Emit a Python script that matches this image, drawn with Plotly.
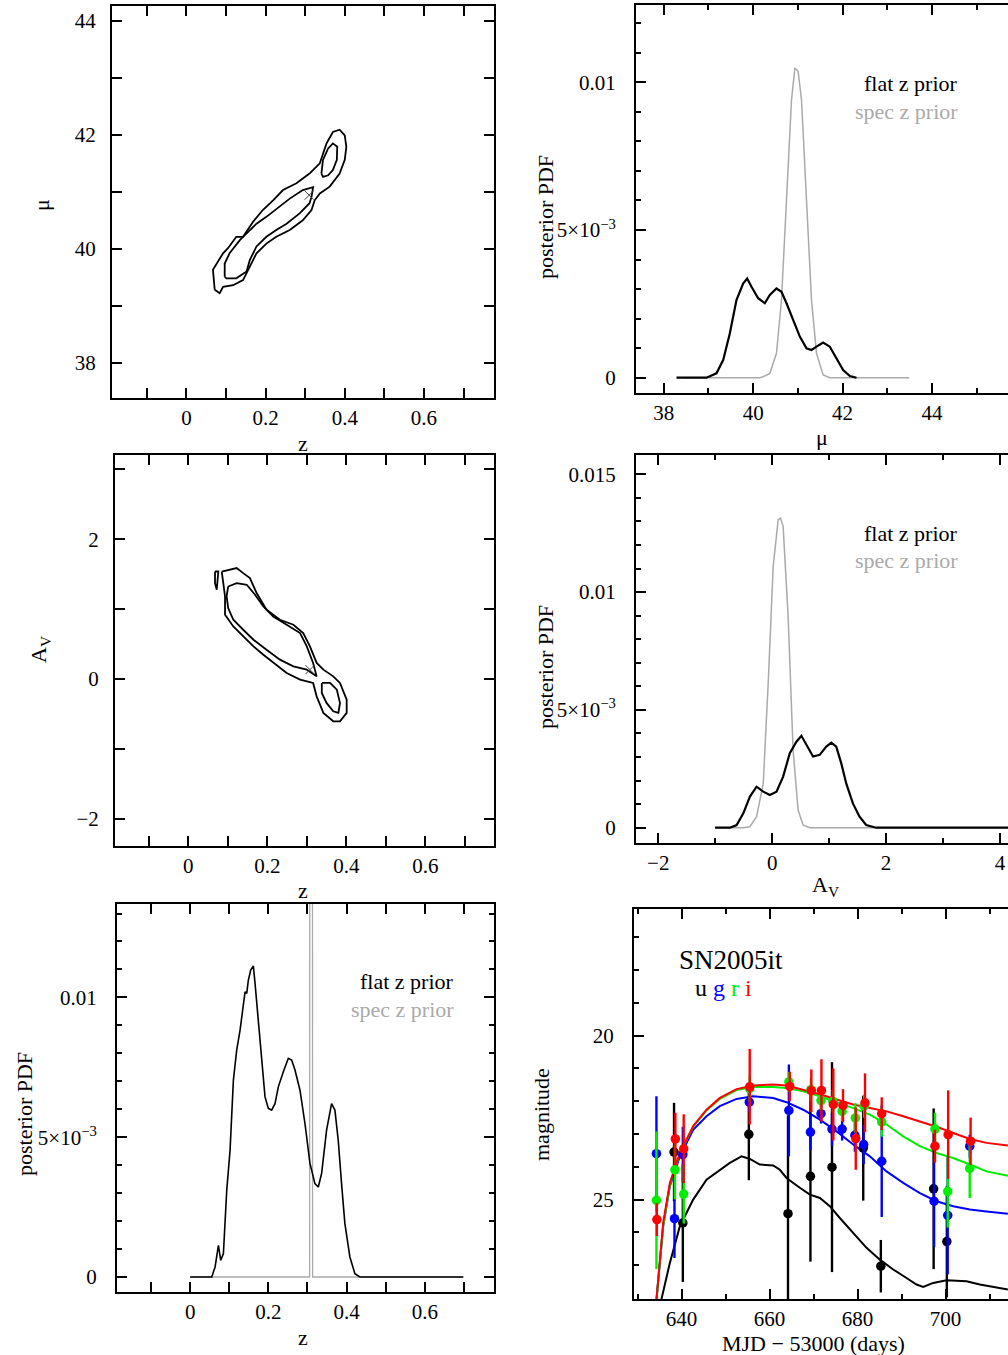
import plotly.graph_objects as go

W, H = 1008, 1355
FONT = "Liberation Serif"
GRAY = "#aaaaaa"

# ---------------- Panel 1: z vs mu contours ----------------
c1_outer_z = [0.0715, 0.067, 0.0925, 0.105, 0.126, 0.143, 0.168, 0.193, 0.219, 0.244, 0.278, 0.311, 0.337,
              0.354, 0.370, 0.387, 0.400, 0.404, 0.400, 0.387, 0.362, 0.337, 0.324, 0.316, 0.294, 0.261,
              0.227, 0.202, 0.177, 0.160, 0.143, 0.118, 0.0925, 0.084, 0.0715]
c1_outer_mu = [39.28, 39.63, 39.92, 40.01, 40.21, 40.21, 40.47, 40.68, 40.85, 41.03, 41.15, 41.32, 41.50,
               41.85, 42.05, 42.09, 41.99, 41.79, 41.56, 41.32, 41.09, 40.97, 40.85, 40.68, 40.50, 40.33,
               40.21, 40.09, 39.92, 39.68, 39.45, 39.36, 39.33, 39.22, 39.28]
c1_inner_z = [0.0967, 0.0967, 0.109, 0.135, 0.152, 0.177, 0.202, 0.236, 0.261, 0.294, 0.320, 0.316, 0.311,
              0.286, 0.253, 0.227, 0.202, 0.177, 0.160, 0.152, 0.126, 0.101, 0.0967]
c1_inner_mu = [39.51, 39.74, 39.92, 40.15, 40.27, 40.44, 40.56, 40.74, 40.88, 41.03, 41.08, 40.91, 40.80,
               40.62, 40.44, 40.33, 40.21, 40.04, 39.80, 39.60, 39.48, 39.48, 39.51]
c1_small_z = [0.341, 0.345, 0.358, 0.370, 0.381, 0.380, 0.370, 0.358, 0.345, 0.341]
c1_small_mu = [41.32, 41.56, 41.76, 41.85, 41.79, 41.56, 41.38, 41.29, 41.26, 41.32]
c1_true_z, c1_true_mu = [0.310], [40.94]

# ---------------- Panel 3: z vs A_V contours ----------------
c3_outer_z = [0.0846, 0.1225, 0.139, 0.156, 0.173, 0.198, 0.232, 0.266, 0.291, 0.308, 0.325, 0.342, 0.367,
              0.384, 0.401, 0.401, 0.384, 0.367, 0.342, 0.325, 0.316, 0.283, 0.249, 0.215, 0.190, 0.165,
              0.139, 0.114, 0.093, 0.093, 0.0886, 0.0846]
c3_outer_av = [1.537, 1.586, 1.514, 1.443, 1.229, 0.99, 0.847, 0.776, 0.657, 0.466, 0.229, 0.133, 0.037,
               -0.057, -0.296, -0.486, -0.606, -0.606, -0.486, -0.249, -0.057, -0.01, 0.086, 0.229, 0.347,
               0.466, 0.609, 0.751, 0.919, 1.18, 1.371, 1.537]
c3_tail_z = [0.0676, 0.076, 0.072, 0.0676, 0.0676]
c3_tail_av = [1.537, 1.537, 1.276, 1.371, 1.537]
c3_inner_z = [0.101, 0.1225, 0.148, 0.169, 0.190, 0.215, 0.249, 0.283, 0.300, 0.316, 0.325, 0.300, 0.266,
              0.232, 0.198, 0.165, 0.139, 0.114, 0.101, 0.097, 0.101]
c3_inner_av = [1.323, 1.371, 1.347, 1.204, 1.037, 0.894, 0.776, 0.657, 0.466, 0.229, 0.037, 0.133, 0.18,
               0.276, 0.419, 0.561, 0.704, 0.847, 1.014, 1.18, 1.323]
c3_small_z = [0.338, 0.359, 0.376, 0.384, 0.380, 0.367, 0.350, 0.338, 0.338]
c3_small_av = [-0.057, -0.057, -0.153, -0.343, -0.486, -0.463, -0.343, -0.2, -0.057]
c3_true_z, c3_true_av = [0.308], [0.133]

# ---------------- Panel 2: mu posterior ----------------
mu_flat_x = [38.285, 38.956, 39.18, 39.33, 39.478, 39.627, 39.776, 39.866, 39.963, 40.112, 40.261, 40.373,
             40.522, 40.634, 40.746, 40.895, 41.044, 41.193, 41.305, 41.417, 41.566, 41.715, 41.864,
             42.013, 42.163, 42.312]
mu_flat_p = [0, 0, 0.000147, 0.000598, 0.0015, 0.00263, 0.00319, 0.00336, 0.00308, 0.00269, 0.00252, 0.0028,
             0.00302, 0.00291, 0.00252, 0.00195, 0.00139, 0.000993, 0.000937, 0.00105, 0.00119, 0.00105,
             0.000655, 0.00026, 0.000056, 0]
mu_spec_x = [38.471, 40.149, 40.224, 40.373, 40.522, 40.634, 40.746, 40.858, 40.932, 40.969, 41.007, 41.082,
             41.193, 41.305, 41.417, 41.566, 41.715, 43.49]
mu_spec_p = [0, 0, 0.000034, 0.000147, 0.000824, 0.00263, 0.00602, 0.0094, 0.01047, 0.01044, 0.01036,
             0.0094, 0.00602, 0.00263, 0.000824, 0.00009, 0, 0]

# ---------------- Panel 4: A_V posterior ----------------
av_flat_x = [-1.003, -0.741, -0.624, -0.507, -0.391, -0.274, -0.157, -0.041, 0.076, 0.192, 0.309, 0.426,
             0.513, 0.601, 0.717, 0.834, 0.950, 1.038, 1.125, 1.213, 1.300, 1.417, 1.534, 1.650, 1.825, 4.2]
av_flat_p = [0, 0, 0.000113, 0.000609, 0.00132, 0.00174, 0.00153, 0.00139, 0.00153, 0.00217, 0.00316,
             0.00365, 0.0039, 0.00351, 0.00302, 0.00309, 0.00344, 0.00361, 0.00344, 0.00273, 0.00188,
             0.00103, 0.000467, 0.000113, 0, 0]
av_spec_x = [-1.003, -0.507, -0.391, -0.274, -0.157, -0.070, 0.0175, 0.105, 0.146, 0.192, 0.280, 0.367,
             0.455, 0.542, 0.659, 4.2]
av_spec_p = [0, 0, 0.0000425, 0.000467, 0.00188, 0.00613, 0.01109, 0.01307, 0.01314, 0.01279, 0.00897,
             0.0033, 0.00075, 0.000113, 0, 0]

# ---------------- Panel 5: z posterior ----------------
z_flat_x = [0, 0.0553, 0.0638, 0.0723, 0.0783, 0.0851, 0.0936, 0.1021, 0.1106, 0.1191, 0.1277, 0.1319,
            0.1404, 0.1447, 0.1489, 0.1549, 0.1617, 0.166, 0.1745, 0.183, 0.1915, 0.2, 0.2085, 0.217,
            0.2255, 0.2383, 0.2511, 0.2596, 0.2681, 0.2809, 0.2936, 0.3064, 0.3191, 0.3277, 0.3362,
            0.3489, 0.3617, 0.3702, 0.3787, 0.3872, 0.3957, 0.4085, 0.4213, 0.434, 0.698]
z_flat_p = [0, 0, 0.000358, 0.00113, 0.000597, 0.000835, 0.0031, 0.00453, 0.00704, 0.00811, 0.00883,
            0.00931, 0.0102, 0.01014, 0.01062, 0.01098, 0.01112, 0.0105, 0.00907, 0.00764, 0.00644,
            0.00603, 0.00597, 0.0062, 0.0068, 0.00734, 0.00782, 0.00776, 0.0074, 0.00668, 0.00549,
            0.00406, 0.00334, 0.00322, 0.0037, 0.00525, 0.0062, 0.00597, 0.00489, 0.00334, 0.00191,
            0.000716, 0.000119, 0, 0]
z_spec_x = [0, 0.3055, 0.3066, 0.3120, 0.3131, 0.7]
z_spec_p = [0, 0, 0.05, 0.05, 0, 0]

# ---------------- Panel 6: light curve of SN2005it ----------------
u_mjd = [638.3, 640.3, 655.3, 664.2, 669.3, 674.2, 681.3, 685.3, 697.3, 700.3]
u_mag = [23.55, 25.71, 23.01, 25.43, 24.29, 24.01, 23.43, 27.03, 24.67, 26.28]
u_err = [1.5, 1.8, 1.4, 3.0, 2.6, 3.2, 1.6, 0.8, 2.45, 1.7]
g_mjd = [634.3, 638.4, 640.3, 655.4, 664.4, 669.3, 671.7, 674.2, 676.5, 679.4, 681.4, 685.5, 697.4, 700.5, 705.5]
g_mag = [23.60, 25.58, 23.63, 22.03, 22.28, 22.94, 22.38, 22.85, 22.85, 23.04, 23.32, 23.83, 25.05, 25.48, 23.37]
g_err = [1.75, 1.2, 0.85, 0.3, 1.4, 0.55, 0.3, 0.5, 0.35, 0.5, 0.6, 1.7, 1.4, 1.8, 0.35]
r_mjd = [634.3, 638.5, 640.5, 655.5, 664.4, 669.4, 671.7, 674.4, 676.5, 679.5, 681.5, 685.5, 697.6, 700.5, 705.5]
r_mag = [25.02, 24.09, 24.83, 21.62, 21.41, 21.65, 21.98, 22.0, 22.31, 22.51, 22.15, 22.63, 22.85, 24.75, 24.05]
r_err = [2.1, 0.9, 0.9, 0.4, 0.3, 0.35, 0.3, 0.35, 0.3, 0.45, 0.35, 0.45, 0.5, 1.1, 0.9]
i_mjd = [634.4, 638.6, 640.5, 655.5, 664.6, 669.5, 671.8, 674.5, 676.7, 679.6, 681.7, 685.5, 697.6, 700.6, 705.7]
i_mag = [25.61, 23.15, 23.45, 21.56, 21.55, 21.68, 21.67, 22.10, 22.13, 23.14, 22.05, 22.38, 23.37, 23.02, 23.22]
i_err = [0.5, 0.8, 1.05, 1.15, 0.45, 0.65, 0.95, 1.1, 0.5, 0.95, 0.9, 0.5, 0.5, 1.35, 0.72]

model_t = [634.32, 635.83, 637.35, 639.62, 642.65, 645.68, 648.71, 652.5, 656.29, 660.83, 663.86, 667.65,
           671.44, 675.23, 679.02, 682.8, 686.59, 690.38, 694.17, 697.95, 701.74, 705.53, 709.32, 714.17]
i_model = [28.03, 25.71, 24.49, 23.58, 22.76, 22.26, 21.90, 21.63, 21.52, 21.49, 21.52, 21.65, 21.79, 21.95,
           22.10, 22.21, 22.31, 22.46, 22.61, 22.78, 22.97, 23.15, 23.27, 23.35]
r_model = [28.03, 25.8, 24.55, 23.6, 22.78, 22.28, 21.93, 21.66, 21.57, 21.57, 21.60, 21.70, 21.85, 22.02,
           22.21, 22.41, 22.71, 23.07, 23.37, 23.58, 23.73, 23.93, 24.14, 24.27]
g_model = [28.03, 25.81, 24.59, 23.68, 22.87, 22.46, 22.15, 21.93, 21.85, 21.90, 22.03, 22.26, 22.56, 22.92,
           23.32, 23.68, 24.14, 24.49, 24.80, 25.05, 25.20, 25.30, 25.36, 25.43]
u_model_t = [635.45, 637.35, 639.62, 642.65, 645.68, 648.71, 650.98, 653.64, 655.53, 657.8, 660.83, 662.35,
             663.86, 666.89, 669.17, 671.44, 673.71, 675.98, 679.02, 682.05, 685.08, 688.11, 691.14, 693.41,
             694.92, 697.2, 700.23, 704.77, 707.8, 710.83, 714.17]
u_model = [28.03, 26.93, 25.81, 25.0, 24.39, 24.09, 23.88, 23.68, 23.76, 23.93, 23.96, 24.09, 24.34, 24.64,
           24.85, 24.95, 25.20, 25.56, 26.02, 26.47, 26.83, 27.13, 27.39, 27.59, 27.66, 27.54, 27.46, 27.49,
           27.59, 27.67, 27.74]

# ---------------- figure ----------------
fig = go.Figure()


def line(x, y, ax, color="black", width=1.8):
    fig.add_trace(go.Scatter(x=x, y=y, mode="lines", xaxis="x" + ax, yaxis="y" + ax,
                             line=dict(color=color, width=width), hoverinfo="skip"))


for xs, ys in [(c1_outer_z, c1_outer_mu), (c1_inner_z, c1_inner_mu), (c1_small_z, c1_small_mu)]:
    line(xs, ys, "")
fig.add_trace(go.Scatter(x=c1_true_z, y=c1_true_mu, mode="markers", xaxis="x", yaxis="y",
                         marker=dict(symbol="x-thin", size=9, line=dict(color="#444", width=1))))
for xs, ys in [(c3_outer_z, c3_outer_av), (c3_tail_z, c3_tail_av), (c3_inner_z, c3_inner_av),
               (c3_small_z, c3_small_av)]:
    line(xs, ys, "3")
fig.add_trace(go.Scatter(x=c3_true_z, y=c3_true_av, mode="markers", xaxis="x3", yaxis="y3",
                         marker=dict(symbol="x-thin", size=9, line=dict(color="#444", width=1))))

line(mu_spec_x, mu_spec_p, "2", GRAY, 1.5)
line(mu_flat_x, mu_flat_p, "2", "black", 2.2)
line(av_spec_x, av_spec_p, "4", GRAY, 1.5)
line(av_flat_x, av_flat_p, "4", "black", 2.2)
line(z_spec_x, z_spec_p, "5", GRAY, 1.3)
line(z_flat_x, z_flat_p, "5", "black", 1.6)

bands = [("black", u_model_t, u_model, u_mjd, u_mag, u_err),
         ("#0000ff", model_t, g_model, g_mjd, g_mag, g_err),
         ("#00ee00", model_t, r_model, r_mjd, r_mag, r_err),
         ("#ff0000", model_t, i_model, i_mjd, i_mag, i_err)]
for col, mt, mm, *_ in bands:
    line(mt, mm, "6", col, 2)
for col, mt, mm, t, m, e in bands:
    fig.add_trace(go.Scatter(x=t, y=m, mode="markers", xaxis="x6", yaxis="y6",
                             marker=dict(color=col, size=9.5),
                             error_y=dict(type="data", array=e, visible=True, thickness=2.4, width=0, color=col)))

tickfont = dict(family=FONT, size=21, color="black")


def axis(dom, rng, vals, text, minor=None, anchor=None, mirror="ticks", standoff=0):
    d = dict(domain=dom, range=rng, tickmode="array", tickvals=vals, ticktext=text,
             ticks="inside", ticklen=10, tickwidth=1.5, tickcolor="black",
             showline=True, linecolor="black", linewidth=2, mirror=mirror,
             showgrid=False, zeroline=False, tickfont=tickfont, anchor=anchor,
             ticklabelstandoff=standoff)
    if minor is not None:
        d["minor"] = dict(tickmode="array", tickvals=minor, ticks="inside", ticklen=5,
                          tickwidth=1.5, tickcolor="black", showgrid=False)
    return d


def px(x):
    return x / W


def py(y):
    return 1 - y / H


zt = [-0.1, 0, 0.1, 0.2, 0.3, 0.4, 0.5, 0.6, 0.7]
ztxt = ["", "0", "", "0.2", "", "0.4", "", "0.6", ""]
pdf_minor5 = [0.001, 0.002, 0.003, 0.004, 0.006, 0.007, 0.008, 0.009, 0.011, 0.012, 0.013]
pdf_minor4 = pdf_minor5 + [0.014]
sup = "5×10<sup style='font-size:14px'>−3</sup>"

fig.update_layout(
    width=W, height=H, margin=dict(l=0, r=0, t=0, b=0),
    paper_bgcolor="white", plot_bgcolor="white", showlegend=False,
    font=dict(family=FONT, size=21, color="black"),
    xaxis=axis([px(112), px(494)], [-0.188, 0.777], zt, ztxt, anchor="y"),
    yaxis=axis([py(398), py(5.5)], [37.38, 44.27], [38, 39, 40, 41, 42, 43, 44],
               ["38", "", "40", "", "42", "", "44"], anchor="x", standoff=10),
    xaxis2=axis([px(636), 1.0], [37.38, 45.70], [38, 40, 42, 44], ["38", "40", "42", "44"],
                minor=[39, 41, 43, 45], anchor="y2"),
    yaxis2=axis([py(393), py(5)], [-0.000518, 0.012617], [0, 0.005, 0.01], ["0", sup, "0.01"],
                minor=[0.001, 0.002, 0.003, 0.004, 0.006, 0.007, 0.008, 0.009, 0.011, 0.012],
                anchor="x2", mirror=False, standoff=14),
    xaxis3=axis([px(115), px(494)], [-0.1856, 0.774], zt, ztxt, anchor="y3"),
    yaxis3=axis([py(846), py(455)], [-2.39, 3.204], [-2, -1, 0, 1, 2, 3], ["−2", "", "0", "", "2", ""],
                anchor="x3", standoff=10),
    xaxis4=axis([px(636), 1.0], [-2.391, 4.14], [-2, 0, 2, 4], ["−2", "0", "2", "4"],
                minor=[-1, 1, 3], anchor="y4"),
    yaxis4=axis([py(843), py(455)], [-0.00065, 0.01582], [0, 0.005, 0.01, 0.015],
                ["0", sup, "0.01", "0.015"], minor=pdf_minor4, anchor="x4", mirror=False, standoff=14),
    xaxis5=axis([px(117), px(494)], [-0.187, 0.777], zt, ztxt, anchor="y5"),
    yaxis5=axis([py(1292), py(904)], [-0.000537, 0.01334], [0, 0.005, 0.01], ["0", sup, "0.01"],
                minor=pdf_minor5, anchor="x5", standoff=14),
    xaxis6=axis([px(634), 1.0], [629.2, 714.2], [640, 660, 680, 700], ["640", "660", "680", "700"],
                minor=[630, 650, 670, 690, 710], anchor="y6"),
    yaxis6=axis([py(1299), py(909)], [28.03, 16.14], [20, 25], ["20", "25"],
                minor=[17, 18, 19, 21, 22, 23, 24, 26, 27], anchor="x6", mirror=False, standoff=14),
)


def ann(x, y, text, size=22, color="black", angle=0, xanchor="center"):
    fig.add_annotation(x=px(x), y=py(y), xref="paper", yref="paper", text=text, showarrow=False,
                       textangle=angle, xanchor=xanchor, yanchor="middle",
                       font=dict(family=FONT, size=size, color=color))


# axis titles
ann(303, 443, "z")
ann(42, 205, "μ", angle=-90)
ann(822, 437, "μ")
ann(545, 217, "posterior PDF", angle=-90)
ann(303, 890, "z")
ann(40, 650, "A<sub>V</sub>", angle=-90)
ann(825, 886, "A<sub>V</sub>")
ann(545, 667, "posterior PDF", angle=-90)
ann(303, 1337, "z")
ann(24, 1114, "posterior PDF", angle=-90)
ann(813, 1343, "MJD − 53000 (days)")
ann(541, 1115, "magnitude", angle=-90)

# legends
for (xr, y1) in [(960, 83), (960, 533), (456, 981)]:
    ann(xr, y1, "flat z prior", xanchor="right")
    ann(xr, y1 + 28, "spec z prior", color=GRAY, xanchor="right")

ann(731, 960, "SN2005it", size=27)
ann(723, 988, "u <span style='color:#0000ff'>g</span> <span style='color:#00ee00'>r</span> "
              "<span style='color:#ff0000'>i</span>", size=24)

fig.write_html("out.html")
